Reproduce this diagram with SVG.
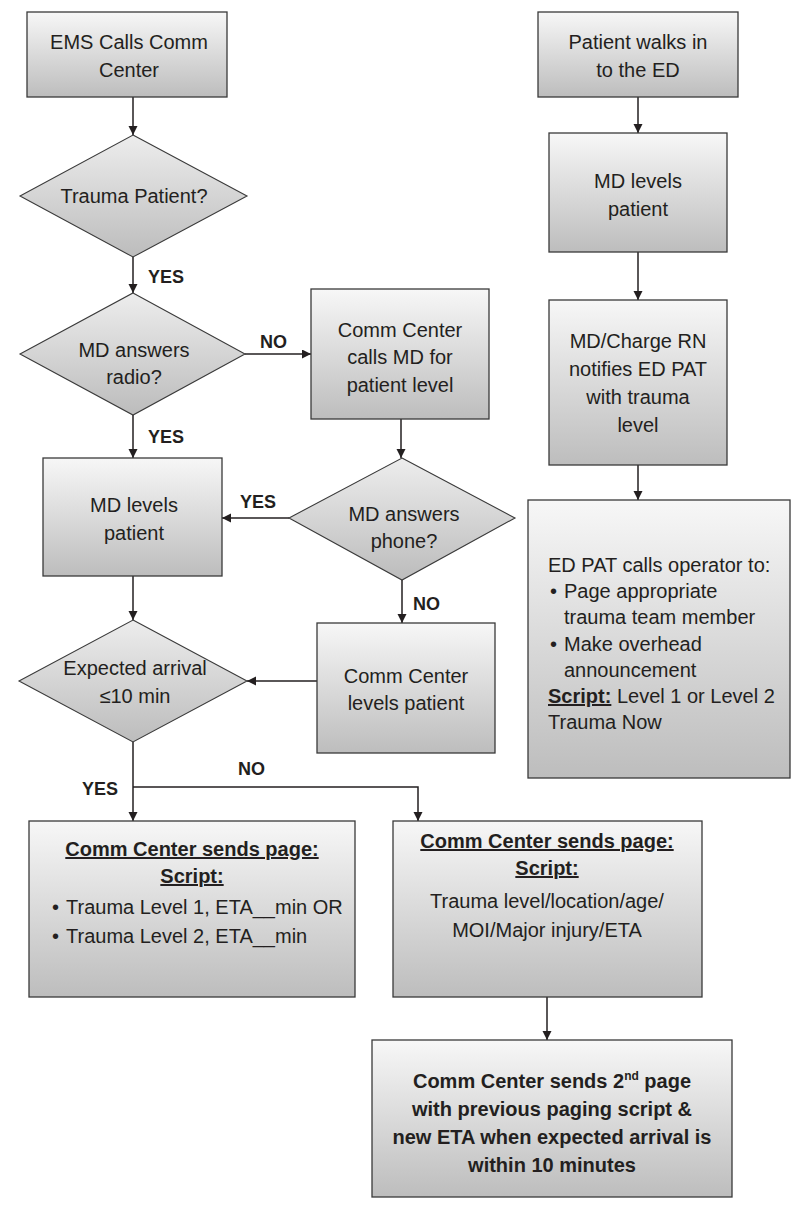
<svg xmlns="http://www.w3.org/2000/svg" width="806" height="1206" viewBox="0 0 806 1206">
<defs>
<linearGradient id="gBox" x1="0" y1="0" x2="0" y2="1">
<stop offset="0" stop-color="#f7f7f7"/>
<stop offset="1" stop-color="#bdbdbd"/>
</linearGradient>
<linearGradient id="gDia" x1="0" y1="0" x2="0" y2="1">
<stop offset="0" stop-color="#ededed"/>
<stop offset="1" stop-color="#bcbcbc"/>
</linearGradient>
<marker id="ah" markerUnits="userSpaceOnUse" markerWidth="10" markerHeight="10" refX="9" refY="4.5" orient="auto">
<path d="M0,0 L9,4.5 L0,9 z" fill="#231f20"/>
</marker>
<style>
.box{fill:url(#gBox);stroke:#3a3a3a;stroke-width:1.3}
.dia{fill:url(#gDia);stroke:#3a3a3a;stroke-width:1.1}
text{font-family:"Liberation Sans",Arial,sans-serif;font-size:20px;fill:#231f20}
.c{text-anchor:middle}
.b{font-weight:bold}
.u{text-decoration:underline}
.lbl{font-weight:bold;font-size:18px}
.con{fill:none;stroke:#231f20;stroke-width:1.5;marker-end:url(#ah)}
.ln{fill:none;stroke:#231f20;stroke-width:1.5}
</style>
</defs>
<rect width="806" height="1206" fill="#ffffff"/>

<g id="connectors">
<path class="con" d="M133,97 V135"/>
<path class="con" d="M133,257 V293"/>
<path class="con" d="M245,354 H311"/>
<path class="con" d="M133,415 V458"/>
<path class="con" d="M401,419 V458"/>
<path class="con" d="M289,518 H222"/>
<path class="con" d="M402,580 V623"/>
<path class="con" d="M133,576 V620"/>
<path class="con" d="M317,681 H247"/>
<path class="con" d="M133,742 V821"/>
<path class="con" d="M133,787 H418 V821"/>
<path class="con" d="M638,97 V133"/>
<path class="con" d="M638,252 V300"/>
<path class="con" d="M638,465 V500"/>
<path class="con" d="M547,997 V1040"/>
<text class="lbl" x="148" y="283">YES</text>
<text class="lbl" x="148" y="443">YES</text>
<text class="lbl" x="260" y="348">NO</text>
<text class="lbl" x="240" y="508">YES</text>
<text class="lbl" x="413" y="610">NO</text>
<text class="lbl" x="82" y="795">YES</text>
<text class="lbl" x="238" y="775">NO</text>
</g>

<g id="ems">
<rect class="box" x="27" y="12" width="200" height="85"/>
<text class="c" x="129" y="49">EMS Calls Comm</text>
<text class="c" x="129" y="77">Center</text>
</g>

<g id="trauma-patient">
<polygon class="dia" points="133,135 247,196 133,257 20,196"/>
<text class="c" x="134" y="203">Trauma Patient?</text>
</g>

<g id="md-radio">
<polygon class="dia" points="133,293 245,354 133,415 20,354"/>
<text class="c" x="134" y="357">MD answers</text>
<text class="c" x="134" y="384">radio?</text>
</g>

<g id="comm-calls-md">
<rect class="box" x="311" y="289" width="178" height="130"/>
<text class="c" x="400" y="337">Comm Center</text>
<text class="c" x="400" y="364">calls MD for</text>
<text class="c" x="400" y="392">patient level</text>
</g>

<g id="md-phone">
<polygon class="dia" points="402,458 515,518 402,580 289,518"/>
<text class="c" x="404" y="521">MD answers</text>
<text class="c" x="404" y="548">phone?</text>
</g>

<g id="md-levels-left">
<rect class="box" x="43" y="458" width="179" height="118"/>
<text class="c" x="134" y="512">MD levels</text>
<text class="c" x="134" y="540">patient</text>
</g>

<g id="expected-arrival">
<polygon class="dia" points="133,620 247,681 133,742 19,681"/>
<text class="c" x="135" y="675">Expected arrival</text>
<text class="c" x="135" y="703">≤10 min</text>
</g>

<g id="comm-levels">
<rect class="box" x="317" y="623" width="178" height="130"/>
<text class="c" x="406" y="683">Comm Center</text>
<text class="c" x="406" y="710">levels patient</text>
</g>

<g id="page-le10">
<rect class="box" x="29" y="821" width="326" height="176"/>
<text class="c b u" x="192" y="856">Comm Center sends page:</text>
<text class="c b u" x="192" y="883">Script:</text>
<text x="52" y="914">•</text>
<text x="66" y="914">Trauma Level 1, ETA__min OR</text>
<text x="52" y="943">•</text>
<text x="66" y="943">Trauma Level 2, ETA__min</text>
</g>

<g id="page-gt10">
<rect class="box" x="393" y="821" width="309" height="176"/>
<text class="c b u" x="547" y="848">Comm Center sends page:</text>
<text class="c b u" x="547" y="875">Script:</text>
<text class="c" x="547" y="908">Trauma level/location/age/</text>
<text class="c" x="547" y="937">MOI/Major injury/ETA</text>
</g>

<g id="second-page">
<rect class="box" x="372" y="1040" width="360" height="157"/>
<text class="c b" x="552" y="1088">Comm Center sends 2<tspan font-size="12" dy="-8">nd</tspan><tspan dy="8"> page</tspan></text>
<text class="c b" x="552" y="1116">with previous paging script &amp;</text>
<text class="c b" x="552" y="1144">new ETA when expected arrival is</text>
<text class="c b" x="552" y="1172">within 10 minutes</text>
</g>

<g id="walk-in">
<rect class="box" x="538" y="12" width="200" height="85"/>
<text class="c" x="638" y="49">Patient walks in</text>
<text class="c" x="638" y="77">to the ED</text>
</g>

<g id="md-levels-right">
<rect class="box" x="549" y="133" width="178" height="119"/>
<text class="c" x="638" y="188">MD levels</text>
<text class="c" x="638" y="216">patient</text>
</g>

<g id="charge-rn">
<rect class="box" x="549" y="300" width="178" height="165"/>
<text class="c" x="638" y="348">MD/Charge RN</text>
<text class="c" x="638" y="376">notifies ED PAT</text>
<text class="c" x="638" y="404">with trauma</text>
<text class="c" x="638" y="432">level</text>
</g>

<g id="ed-pat">
<rect class="box" x="528" y="500" width="262" height="278"/>
<text x="548" y="572">ED PAT calls operator to:</text>
<text x="550" y="598">•</text>
<text x="564" y="598">Page appropriate</text>
<text x="564" y="624">trauma team member</text>
<text x="550" y="651">•</text>
<text x="564" y="651">Make overhead</text>
<text x="564" y="677">announcement</text>
<text x="548" y="703"><tspan class="b u">Script:</tspan> Level 1 or Level 2</text>
<text x="548" y="729">Trauma Now</text>
</g>
</svg>
